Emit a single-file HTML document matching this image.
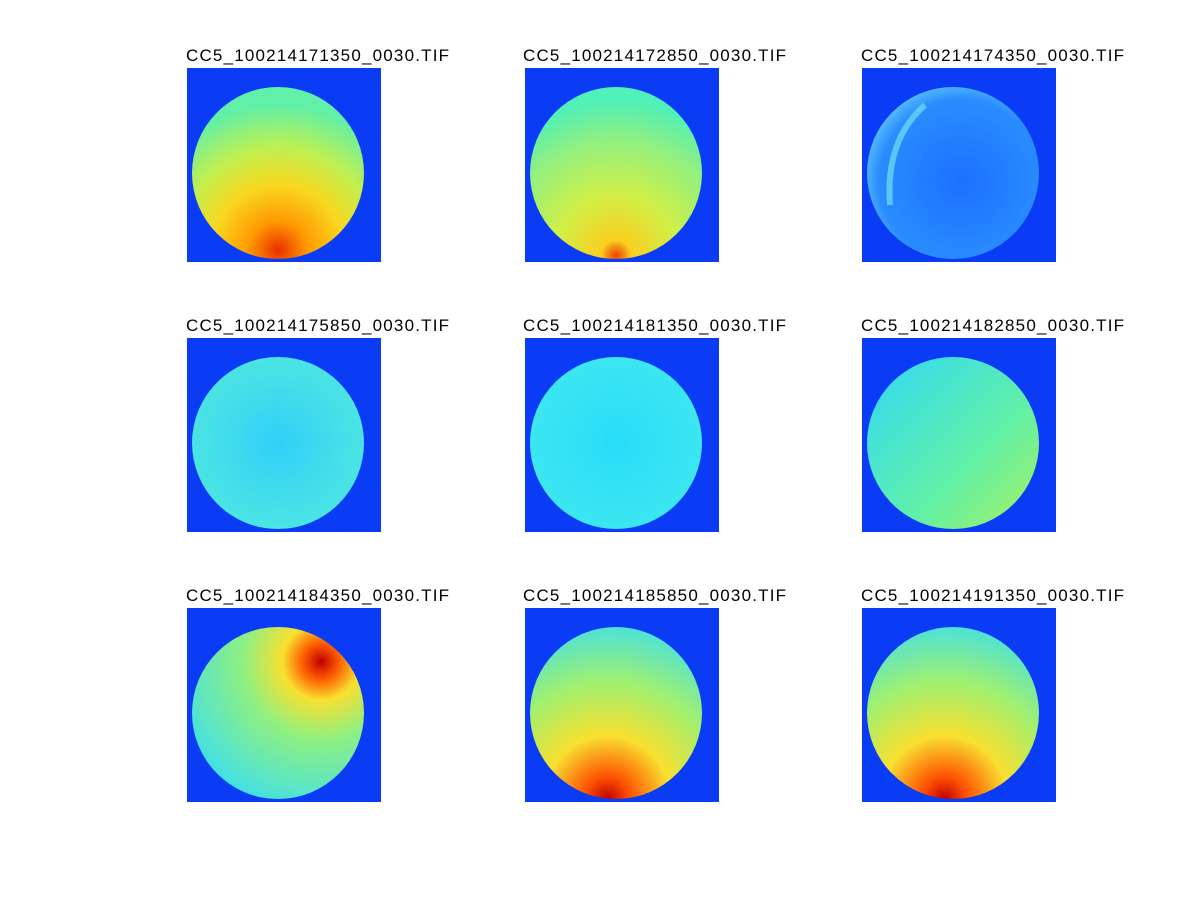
<!DOCTYPE html>
<html><head><style>
html,body{margin:0;padding:0;background:#fff;}
svg{display:block}
text{font-family:"Liberation Sans",sans-serif;font-size:17px;fill:#000}
</style></head><body>
<svg width="1201" height="901" viewBox="0 0 1201 901">
<defs>
<radialGradient id="g1" cx="0.5" cy="0.95" r="0.85"><stop offset="0" stop-color="#e83000"/><stop offset="0.2" stop-color="#ff9a00"/><stop offset="0.45" stop-color="#f8d820"/><stop offset="0.7" stop-color="#c0f050"/><stop offset="1" stop-color="#60f0a8"/></radialGradient>
<radialGradient id="g2" cx="0.5" cy="0.98" r="0.9"><stop offset="0" stop-color="#f04000"/><stop offset="0.1" stop-color="#f8d020"/><stop offset="0.4" stop-color="#d0f048"/><stop offset="0.75" stop-color="#90f080"/><stop offset="1" stop-color="#50f0b8"/></radialGradient>
<radialGradient id="g3" cx="0.55" cy="0.55" r="0.6"><stop offset="0" stop-color="#1c70ff"/><stop offset="0.8" stop-color="#2a8cff"/><stop offset="1" stop-color="#60c8ff"/></radialGradient>
<radialGradient id="g4" cx="0.5" cy="0.5" r="0.6"><stop offset="0" stop-color="#30d0f8"/><stop offset="1" stop-color="#50e8e0"/></radialGradient>
<radialGradient id="g5" cx="0.5" cy="0.5" r="0.6"><stop offset="0" stop-color="#28dcf8"/><stop offset="1" stop-color="#40e8f0"/></radialGradient>
<linearGradient id="g6" x1="0" y1="0" x2="1" y2="1"><stop offset="0" stop-color="#30d8f8"/><stop offset="0.6" stop-color="#60f0a8"/><stop offset="1" stop-color="#a8f060"/></linearGradient>
<radialGradient id="g7" cx="0.75" cy="0.2" r="0.9"><stop offset="0" stop-color="#c00000"/><stop offset="0.12" stop-color="#ff6000"/><stop offset="0.25" stop-color="#f8e030"/><stop offset="0.5" stop-color="#90f080"/><stop offset="1" stop-color="#40e0e8"/></radialGradient>
<radialGradient id="g8" cx="0.45" cy="1" r="1.05"><stop offset="0" stop-color="#c00000"/><stop offset="0.12" stop-color="#ff5000"/><stop offset="0.35" stop-color="#f8e030"/><stop offset="0.65" stop-color="#a0f070"/><stop offset="1" stop-color="#40e0e8"/></radialGradient>
</defs>
<g fill="#0a3cf5">
<rect x="187" y="68" width="194" height="194"/><rect x="525" y="68" width="194" height="194"/><rect x="862" y="68" width="194" height="194"/>
<rect x="187" y="338" width="194" height="194"/><rect x="525" y="338" width="194" height="194"/><rect x="862" y="338" width="194" height="194"/>
<rect x="187" y="608" width="194" height="194"/><rect x="525" y="608" width="194" height="194"/><rect x="862" y="608" width="194" height="194"/>
</g>
<circle cx="278" cy="173" r="86" fill="url(#g1)"/>
<circle cx="616" cy="173" r="86" fill="url(#g2)"/>
<circle cx="953" cy="173" r="86" fill="url(#g3)"/>
<path d="M925 105 Q885 140 890 205" stroke="#70e0f0" stroke-width="6" fill="none" opacity="0.7"/>
<circle cx="278" cy="443" r="86" fill="url(#g4)"/>
<circle cx="616" cy="443" r="86" fill="url(#g5)"/>
<circle cx="953" cy="443" r="86" fill="url(#g6)"/>
<circle cx="278" cy="713" r="86" fill="url(#g7)"/>
<circle cx="616" cy="713" r="86" fill="url(#g8)"/>
<circle cx="953" cy="713" r="86" fill="url(#g8)"/>
<g lengthAdjust="spacingAndGlyphs">
<text x="186" y="61" textLength="263">CC5_100214171350_0030.TIF</text>
<text x="523" y="61" textLength="263">CC5_100214172850_0030.TIF</text>
<text x="861" y="61" textLength="263">CC5_100214174350_0030.TIF</text>
<text x="186" y="331" textLength="263">CC5_100214175850_0030.TIF</text>
<text x="523" y="331" textLength="263">CC5_100214181350_0030.TIF</text>
<text x="861" y="331" textLength="263">CC5_100214182850_0030.TIF</text>
<text x="186" y="601" textLength="263">CC5_100214184350_0030.TIF</text>
<text x="523" y="601" textLength="263">CC5_100214185850_0030.TIF</text>
<text x="861" y="601" textLength="263">CC5_100214191350_0030.TIF</text>
</g>
</svg>
</body></html>
